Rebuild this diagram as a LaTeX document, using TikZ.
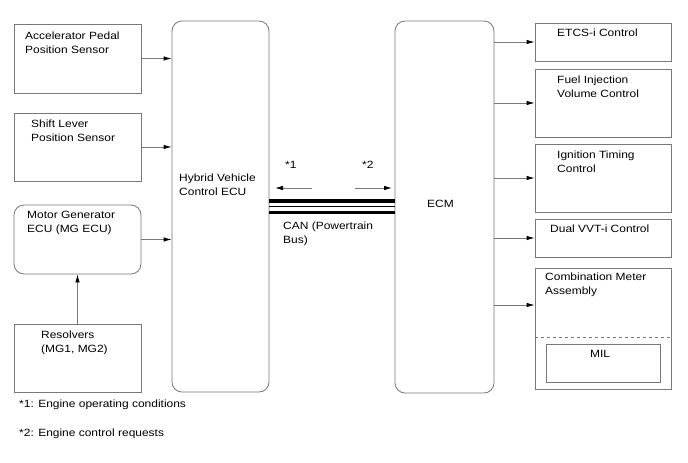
\documentclass[tikz,border=0pt]{standalone}
\usepackage{fontspec}
\setmainfont{Liberation Sans}[FakeStretch=1.14]
\usetikzlibrary{arrows.meta}
\definecolor{lc}{RGB}{120,120,120}
\tikzset{
  box/.style={draw=lc, line width=0.8pt, inner sep=0pt, fill=white},
  rbox/.style={box, rounded corners=10pt},
  lbl/.style={anchor=base west, inner sep=0pt, font=\fontsize{10.5}{14}\selectfont, align=left},
  arr/.style={draw=lc, line width=0.8pt, -{Latex[black,length=8pt,width=4.5pt]}},
  canline/.style={draw=black},
}
\begin{document}
\begin{tikzpicture}[x=1pt,y=-1pt]
\useasboundingbox (0,0) rectangle (688,463);
% left column
\node[box, minimum width=127pt, minimum height=69pt] (accel) at (77.5,58.5) {};
\node[box, minimum width=127pt, minimum height=68pt] (shift) at (77.5,147) {};
\node[rbox, minimum width=127pt, minimum height=69pt] (mg) at (77.5,239.5) {};
\node[box, minimum width=127pt, minimum height=68pt] (res) at (77.5,358) {};
\node[rbox, minimum width=97pt, minimum height=371pt] (hv) at (220.5,206.5) {};
\node[rbox, minimum width=99pt, minimum height=372pt] (ecm) at (444.5,207) {};
% right column
\node[box, minimum width=136pt, minimum height=38pt] (etcs) at (603,42) {};
\node[box, minimum width=136pt, minimum height=68pt] (fuel) at (603,103) {};
\node[box, minimum width=136pt, minimum height=68pt] (ign) at (603,178) {};
\node[box, minimum width=136pt, minimum height=38pt] (vvt) at (603,238) {};
\node[box, minimum width=136pt, minimum height=121pt] (comb) at (603,328.5) {};
\node[box, minimum width=114pt, minimum height=38pt] (mil) at (603,363) {};
\draw[draw=lc, line width=0.8pt, dashed] (comb.west |- 0,337) coordinate (dl) -- (comb.east |- dl);
% labels (two-line labels are placed by the baseline of their last line)
\node[lbl] (taccel) at (25,53) {Accelerator Pedal\\Position Sensor};
\node[lbl] (tshift) at (31,141) {Shift Lever\\Position Sensor};
\node[lbl] (tmg) at (27,232.6) {Motor Generator\\ECU (MG ECU)};
\node[lbl] (tres) at (41,352) {Resolvers\\(MG1, MG2)};
\node[lbl] (thv) at (179,195) {Hybrid Vehicle\\Control ECU};
\node[lbl] (tecm) at (427,207) {ECM};
\node[lbl] (tetcs) at (557,36) {ETCS-i Control};
\node[lbl] (tfuel) at (557,97.3) {Fuel Injection\\Volume Control};
\node[lbl] (tign) at (557,172) {Ignition Timing\\Control};
\node[lbl] (tvvt) at (550,232.3) {Dual VVT-i Control};
\node[lbl] (tcomb) at (545,294) {Combination Meter\\Assembly};
\node[lbl, anchor=base] (tmil) at (600,357.7) {MIL};
\node[lbl] (ts1) at (285,168) {*1};
\node[lbl] (ts2) at (362,168) {*2};
\node[lbl] (tcan) at (283,243) {CAN (Powertrain\\Bus)};
\node[lbl] (fn1) at (19,407) {*1: Engine operating conditions};
\node[lbl] (fn2) at (19,436.7) {*2: Engine control requests};
% connectors
\draw[arr] (accel.east) -- (hv.west |- accel.east);
\draw[arr] (shift.east) -- (hv.west |- shift.east);
\draw[arr] (mg.east) -- (hv.west |- mg.east);
\draw[arr] (res.north) -- (mg.south);
\draw[arr] (ecm.east |- etcs.west) -- (etcs.west);
\draw[arr] (ecm.east |- fuel.west) -- (fuel.west);
\draw[arr] (ecm.east |- ign.west) -- (ign.west);
\draw[arr] (ecm.east |- vvt.west) -- (vvt.west);
\coordinate (ca) at (535,305);
\draw[arr] (ecm.east |- ca) -- (comb.west |- ca);
% CAN bus
\draw[canline, line width=3.5pt] (hv.east |- 0,200.8) -- (ecm.west |- 0,200.8);
\draw[canline, line width=1.2pt] (hv.east |- 0,206.3) -- (ecm.west |- 0,206.3);
\draw[canline, line width=3pt] (hv.east |- 0,212.3) -- (ecm.west |- 0,212.3);
% direction arrows
\coordinate (a1s) at (312,188);
\coordinate (a1e) at (275,188);
\coordinate (a2s) at (355,188);
\coordinate (a2e) at (392,188);
\draw[arr] (a1s) -- (a1e);
\draw[arr] (a2s) -- (a2e);
\end{tikzpicture}
\end{document}
